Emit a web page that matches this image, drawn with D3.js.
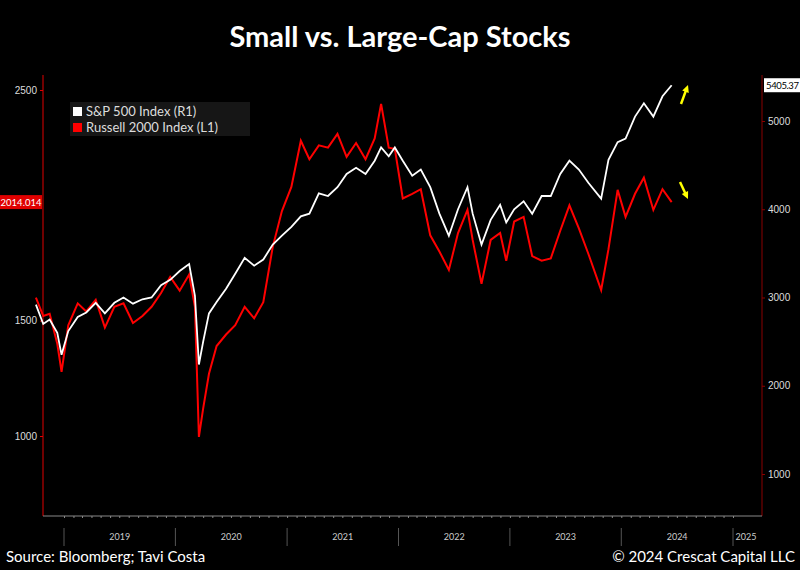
<!DOCTYPE html>
<html><head><meta charset="utf-8">
<script src="https://cdn.jsdelivr.net/npm/d3@7"></script>
<style>body{margin:0;background:#000}</style>
</head><body>
<script>
// monthly-ish closes, Oct 2018 - Jun 2024
var dates = ["2018-10-01","2018-10-25","2018-11-15","2018-12-10","2018-12-24","2019-01-15","2019-02-15","2019-03-15","2019-04-15","2019-05-15","2019-06-15","2019-07-15","2019-08-15","2019-09-15","2019-10-15","2019-11-15","2019-12-15",
 "2020-01-15","2020-02-15","2020-03-05","2020-03-18","2020-04-01","2020-04-20","2020-05-15","2020-06-15","2020-07-15","2020-08-15","2020-09-15","2020-10-15","2020-11-15","2020-12-15",
 "2021-01-15","2021-02-15","2021-03-15","2021-04-15","2021-05-15","2021-06-15","2021-07-15","2021-08-15","2021-09-15","2021-10-15","2021-11-05","2021-11-30","2021-12-20",
 "2022-01-15","2022-02-15","2022-03-15","2022-04-15","2022-05-15","2022-06-15","2022-07-15","2022-08-15","2022-09-01","2022-09-30","2022-10-30","2022-11-30","2022-12-20",
 "2023-01-15","2023-02-15","2023-03-15","2023-04-15","2023-05-15","2023-06-15","2023-07-15","2023-08-15","2023-09-15","2023-10-27","2023-11-20","2023-12-20",
 "2024-01-15","2024-02-15","2024-03-15","2024-04-15","2024-05-15","2024-06-14"];
var russell = [1600,1520,1530,1400,1278,1480,1575,1540,1590,1470,1560,1575,1490,1520,1560,1620,1690,
 1630,1700,1560,996,1120,1270,1390,1440,1480,1560,1510,1580,1820,1975,
 2080,2280,2200,2260,2250,2310,2210,2270,2200,2290,2440,2250,2245,
 2030,2050,2070,1870,1800,1720,1880,1980,1850,1660,1850,1880,1760,
 1930,1950,1780,1760,1770,1890,2000,1900,1790,1633,1810,2067,
 1950,2050,2120,1980,2070,2014];
var sp500 = [2920,2700,2750,2600,2350,2620,2780,2830,2940,2820,2940,3000,2930,2980,3000,3140,3200,
 3300,3380,3020,2240,2500,2820,2950,3100,3270,3450,3360,3430,3600,3700,
 3800,3920,3950,4180,4150,4250,4400,4470,4400,4550,4700,4600,4700,
 4550,4380,4450,4250,3950,3700,4000,4250,3950,3600,3880,4050,3850,
 4000,4090,3950,4150,4150,4400,4550,4450,4300,4120,4560,4760,
 4800,5050,5200,5050,5280,5405.37];
var yearTicks = ["2019","2020","2021","2022","2023","2024","2025"];

var W = 800, H = 570;
var svg = d3.select("body").append("svg").attr("width", W).attr("height", H)
	.style("background", "#000").style("font-family", "Lato, 'Open Sans', sans-serif");

var parse = d3.timeParse("%Y-%m-%d");
var data = dates.map(function(d, i){ return {t: parse(d), r: russell[i], s: sp500[i]}; });

// 2019-01-01 sits at 64px, 2025-01-01 at 733px
var x = d3.scaleTime().domain([parse("2019-01-01"), parse("2025-01-01")]).range([64, 733]);
var yL = d3.scaleLinear().domain([1000, 2500]).range([436, 90]);
var yR = d3.scaleLinear().domain([1000, 5000]).range([474, 121]);

svg.append("text").attr("x", 400).attr("y", 47).attr("text-anchor", "middle")
	.attr("fill", "#fff").attr("font-size", 29).attr("font-weight", "bold").text("Small vs. Large-Cap Stocks");

// axes
var left = svg.append("g").attr("transform", "translate(43,0)")
	.call(d3.axisLeft(yL).tickValues([1000, 1500, 2500]).tickSize(3).tickFormat(d3.format("d")));
left.select(".domain").attr("stroke", "#e00000").attr("d", "M0,75V516");
left.selectAll("line").attr("stroke", "#e00000");
left.selectAll("text").attr("fill", "#ddd").attr("font-size", 10);

var right = svg.append("g").attr("transform", "translate(762,0)")
	.call(d3.axisRight(yR).tickValues([1000, 2000, 3000, 4000, 5000]).tickSize(3).tickFormat(d3.format("d")));
right.select(".domain").attr("stroke", "#8a0000").attr("d", "M0,75V516");
right.selectAll("line").attr("stroke", "#8a0000");
right.selectAll("text").attr("fill", "#ddd").attr("font-size", 10);

// bottom axis with month ticks
var bottom = svg.append("g").attr("transform", "translate(0,516)")
	.call(d3.axisBottom(x).ticks(d3.timeMonth.every(1)).tickSize(2).tickFormat(""));
bottom.select(".domain").attr("d", "M43,0H762");
bottom.selectAll("path,line").attr("stroke", "#888");

yearTicks.forEach(function(y){
	var t = parse(y + "-01-01"), nx = parse((+y + 1) + "-01-01");
	svg.append("line").attr("x1", x(t)).attr("x2", x(t)).attr("y1", 528).attr("y2", 546).attr("stroke", "#555");
	var mid = y === "2025" ? x(t) + 13 : (x(t) + x(nx)) / 2;
	svg.append("text").attr("x", mid).attr("y", 540).attr("text-anchor", "middle")
		.attr("fill", "#ccc").attr("font-size", 9).text(y);
});

// lines
svg.append("path").datum(data).attr("fill", "none").attr("stroke", "#ff0000").attr("stroke-width", 2)
	.attr("d", d3.line().x(function(d){ return x(d.t); }).y(function(d){ return yL(d.r); }));
svg.append("path").datum(data).attr("fill", "none").attr("stroke", "#fff").attr("stroke-width", 1.8)
	.attr("d", d3.line().x(function(d){ return x(d.t); }).y(function(d){ return yR(d.s); }));

// last value labels
var lastR = russell[russell.length - 1], lastS = sp500[sp500.length - 1];
svg.append("rect").attr("x", 0).attr("y", yL(lastR) - 7).attr("width", 42).attr("height", 14).attr("fill", "#e00000");
svg.append("text").attr("x", 21).attr("y", yL(lastR) + 4).attr("text-anchor", "middle").attr("fill", "#fff").attr("font-size", 9.5).text("2014.014");
svg.append("rect").attr("x", 764).attr("y", yR(lastS) - 7).attr("width", 36).attr("height", 14).attr("fill", "#fff");
svg.append("text").attr("x", 766).attr("y", yR(lastS) + 4).attr("fill", "#000").attr("font-size", 9.5).attr("textLength", 33).text("5405.37");

// legend
svg.append("rect").attr("x", 70).attr("y", 102).attr("width", 180).attr("height", 34).attr("fill", "#161616");
[["S&P 500 Index (R1)", "#fff"], ["Russell 2000 Index (L1)", "#ff0000"]].forEach(function(l, i){
	svg.append("rect").attr("x", 73).attr("y", 107 + i * 16).attr("width", 9).attr("height", 9).attr("fill", l[1]);
	svg.append("text").attr("x", 86).attr("y", 116 + i * 16).attr("fill", "#ddd").attr("font-size", 13).text(l[0]);
});

// arrows
function arrow(x1, y1, x2, y2){
	var a = Math.atan2(y2 - y1, x2 - x1), s = 8;
	svg.append("line").attr("x1", x1).attr("y1", y1).attr("x2", x2 - 5 * Math.cos(a)).attr("y2", y2 - 5 * Math.sin(a))
		.attr("stroke", "#ffff00").attr("stroke-width", 2.5);
	svg.append("path").attr("fill", "#ffff00").attr("d",
		"M" + x2 + "," + y2 +
		"L" + (x2 - s * Math.cos(a - 0.45)) + "," + (y2 - s * Math.sin(a - 0.45)) +
		"L" + (x2 - s * Math.cos(a + 0.45)) + "," + (y2 - s * Math.sin(a + 0.45)) + "Z");
}
arrow(681, 104, 688, 85);
arrow(680, 182, 688, 199);

svg.append("text").attr("x", 6).attr("y", 562).attr("fill", "#fff").attr("font-size", 15).text("Source: Bloomberg; Tavi Costa");
svg.append("text").attr("x", 795).attr("y", 562).attr("text-anchor", "end").attr("fill", "#fff").attr("font-size", 15).text("© 2024 Crescat Capital LLC");
</script>
</body></html>
